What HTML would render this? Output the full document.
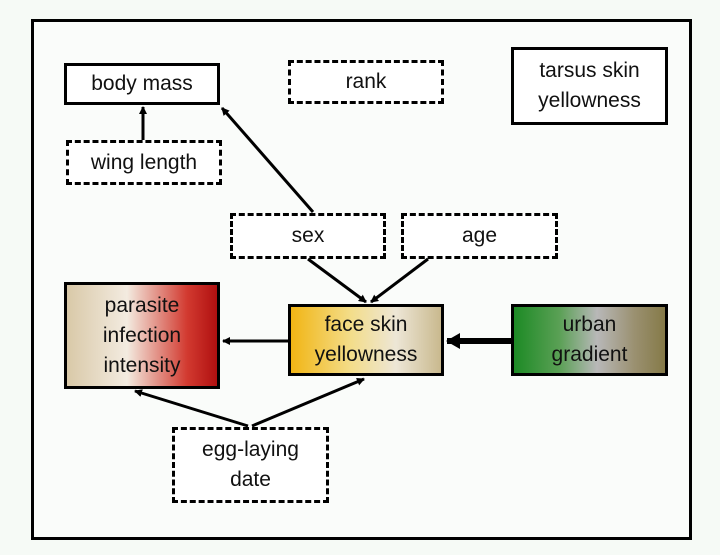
<!DOCTYPE html>
<html><head><style>
body{margin:0;width:720px;height:555px;background:#f6faf6;overflow:hidden;font-family:"Liberation Sans",sans-serif;}
.b{position:absolute;box-sizing:border-box;display:flex;align-items:center;justify-content:center;text-align:center;font-size:21px;line-height:30px;color:#111;}
.s{border:3px solid #000;background:#fff;}
.d{border:3px dashed #000;background:#fff;}
</style></head><body>
<div style="position:absolute;left:31px;top:19px;width:661px;height:521px;box-sizing:border-box;border:3px solid #000;background:#fafcfa"></div>
<div class="b s" style="left:64px;top:63px;width:156px;height:42px">body mass</div>
<div class="b d" style="left:288px;top:60px;width:156px;height:44px">rank</div>
<div class="b s" style="left:511px;top:47px;width:157px;height:78px">tarsus skin<br>yellowness</div>
<div class="b d" style="left:66px;top:140px;width:156px;height:45px">wing length</div>
<div class="b d" style="left:230px;top:213px;width:156px;height:46px">sex</div>
<div class="b d" style="left:401px;top:213px;width:157px;height:46px">age</div>
<div class="b s" style="left:64px;top:282px;width:156px;height:107px;background:linear-gradient(90deg,#d9c9a8 0%,#f3ebe0 40%,#d23a30 80%,#b01010 100%)">parasite<br>infection<br>intensity</div>
<div class="b s" style="left:288px;top:304px;width:156px;height:72px;background:linear-gradient(90deg,#f2b514 0%,#f3dd8a 40%,#ede6d6 70%,#c9b98e 100%)">face skin<br>yellowness</div>
<div class="b s" style="left:511px;top:304px;width:157px;height:72px;background:linear-gradient(90deg,#1d8a25 0%,#5aa055 30%,#b8b8b8 55%,#9a9070 80%,#857a48 100%)">urban<br>gradient</div>
<div class="b d" style="left:172px;top:427px;width:157px;height:76px">egg-laying<br>date</div>
<svg width="720" height="555" style="position:absolute;left:0;top:0">
<defs><marker id="a" markerWidth="8" markerHeight="8" refX="7" refY="4" orient="auto" markerUnits="userSpaceOnUse"><path d="M0,0L8,4L0,8z"/></marker>
<marker id="t" markerWidth="14" markerHeight="16" refX="13" refY="8" orient="auto" markerUnits="userSpaceOnUse"><path d="M0,0L14,8L0,16z"/></marker></defs>
<g stroke="#000" stroke-width="3" fill="none">
<line x1="143" y1="140" x2="143" y2="107" marker-end="url(#a)"/>
<line x1="313" y1="212" x2="222" y2="108" marker-end="url(#a)"/>
<line x1="308" y1="259" x2="366" y2="302" marker-end="url(#a)"/>
<line x1="428" y1="259" x2="371" y2="302" marker-end="url(#a)"/>
<line x1="288" y1="341" x2="223" y2="341" marker-end="url(#a)"/>
<line x1="511" y1="341" x2="447" y2="341" stroke-width="6" marker-end="url(#t)"/>
<line x1="248" y1="426" x2="135" y2="391" marker-end="url(#a)"/>
<line x1="252" y1="426" x2="364" y2="379" marker-end="url(#a)"/>
</g></svg>
</body></html>
